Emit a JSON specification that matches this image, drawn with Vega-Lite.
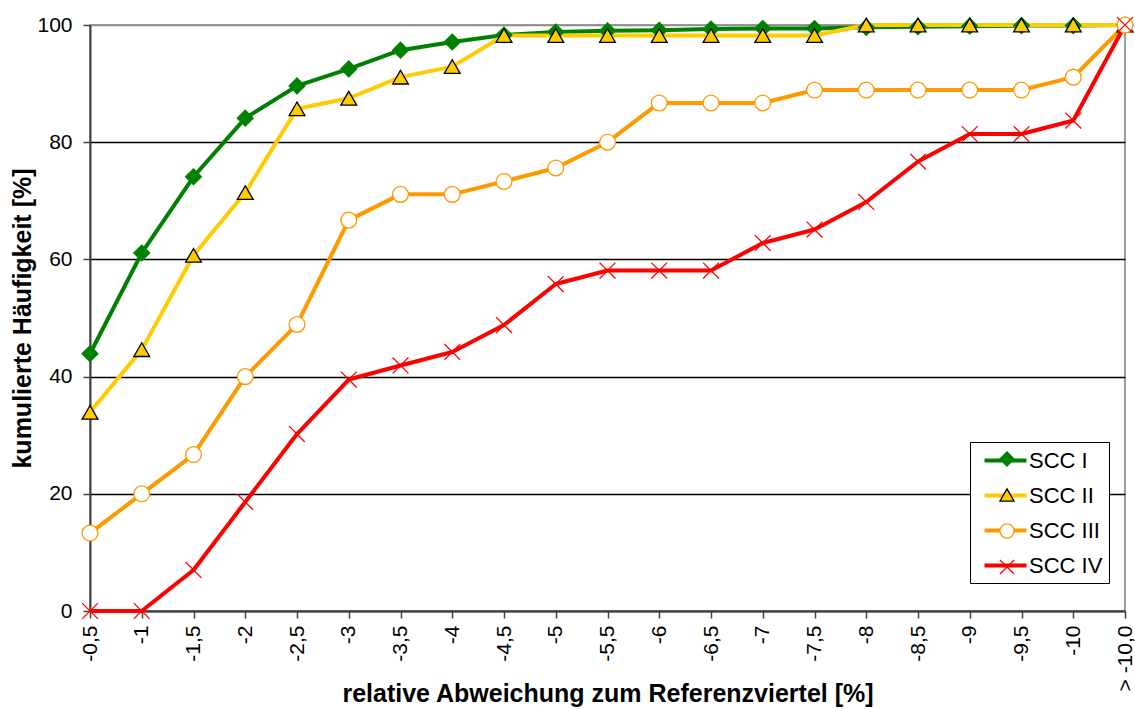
{
  "$schema": "https://vega.github.io/schema/vega-lite/v6.json",
  "autosize": "none",
  "width": 1035,
  "height": 586,
  "padding": {"left": 90, "top": 25, "right": 10, "bottom": 98},
  "background": "white",
  "config": {
    "font": "Liberation Sans",
    "view": {"stroke": "#808080", "strokeWidth": 1.5}
  },
  "data": {"values": [
    {"x": "-0,5", "series": "SCC I", "value": 43.9},
    {"x": "-1", "series": "SCC I", "value": 61.1},
    {"x": "-1,5", "series": "SCC I", "value": 74.1},
    {"x": "-2", "series": "SCC I", "value": 84.1},
    {"x": "-2,5", "series": "SCC I", "value": 89.6},
    {"x": "-3", "series": "SCC I", "value": 92.5},
    {"x": "-3,5", "series": "SCC I", "value": 95.7},
    {"x": "-4", "series": "SCC I", "value": 97.1},
    {"x": "-4,5", "series": "SCC I", "value": 98.3},
    {"x": "-5", "series": "SCC I", "value": 98.8},
    {"x": "-5,5", "series": "SCC I", "value": 99.0},
    {"x": "-6", "series": "SCC I", "value": 99.1},
    {"x": "-6,5", "series": "SCC I", "value": 99.3},
    {"x": "-7", "series": "SCC I", "value": 99.4},
    {"x": "-7,5", "series": "SCC I", "value": 99.4},
    {"x": "-8", "series": "SCC I", "value": 99.6},
    {"x": "-8,5", "series": "SCC I", "value": 99.7},
    {"x": "-9", "series": "SCC I", "value": 99.8},
    {"x": "-9,5", "series": "SCC I", "value": 99.9},
    {"x": "-10", "series": "SCC I", "value": 99.9},
    {"x": "> -10,0", "series": "SCC I", "value": 100},
    {"x": "-0,5", "series": "SCC II", "value": 33.9},
    {"x": "-1", "series": "SCC II", "value": 44.6},
    {"x": "-1,5", "series": "SCC II", "value": 60.7},
    {"x": "-2", "series": "SCC II", "value": 71.4},
    {"x": "-2,5", "series": "SCC II", "value": 85.7},
    {"x": "-3", "series": "SCC II", "value": 87.5},
    {"x": "-3,5", "series": "SCC II", "value": 91.1},
    {"x": "-4", "series": "SCC II", "value": 92.9},
    {"x": "-4,5", "series": "SCC II", "value": 98.2},
    {"x": "-5", "series": "SCC II", "value": 98.2},
    {"x": "-5,5", "series": "SCC II", "value": 98.2},
    {"x": "-6", "series": "SCC II", "value": 98.2},
    {"x": "-6,5", "series": "SCC II", "value": 98.2},
    {"x": "-7", "series": "SCC II", "value": 98.2},
    {"x": "-7,5", "series": "SCC II", "value": 98.2},
    {"x": "-8", "series": "SCC II", "value": 100},
    {"x": "-8,5", "series": "SCC II", "value": 100},
    {"x": "-9", "series": "SCC II", "value": 100},
    {"x": "-9,5", "series": "SCC II", "value": 100},
    {"x": "-10", "series": "SCC II", "value": 100},
    {"x": "> -10,0", "series": "SCC II", "value": 100},
    {"x": "-0,5", "series": "SCC III", "value": 13.3},
    {"x": "-1", "series": "SCC III", "value": 20.0},
    {"x": "-1,5", "series": "SCC III", "value": 26.7},
    {"x": "-2", "series": "SCC III", "value": 40.0},
    {"x": "-2,5", "series": "SCC III", "value": 48.9},
    {"x": "-3", "series": "SCC III", "value": 66.7},
    {"x": "-3,5", "series": "SCC III", "value": 71.1},
    {"x": "-4", "series": "SCC III", "value": 71.1},
    {"x": "-4,5", "series": "SCC III", "value": 73.3},
    {"x": "-5", "series": "SCC III", "value": 75.6},
    {"x": "-5,5", "series": "SCC III", "value": 80.0},
    {"x": "-6", "series": "SCC III", "value": 86.7},
    {"x": "-6,5", "series": "SCC III", "value": 86.7},
    {"x": "-7", "series": "SCC III", "value": 86.7},
    {"x": "-7,5", "series": "SCC III", "value": 88.9},
    {"x": "-8", "series": "SCC III", "value": 88.9},
    {"x": "-8,5", "series": "SCC III", "value": 88.9},
    {"x": "-9", "series": "SCC III", "value": 88.9},
    {"x": "-9,5", "series": "SCC III", "value": 88.9},
    {"x": "-10", "series": "SCC III", "value": 91.1},
    {"x": "> -10,0", "series": "SCC III", "value": 100},
    {"x": "-0,5", "series": "SCC IV", "value": 0},
    {"x": "-1", "series": "SCC IV", "value": 0},
    {"x": "-1,5", "series": "SCC IV", "value": 7.0},
    {"x": "-2", "series": "SCC IV", "value": 18.6},
    {"x": "-2,5", "series": "SCC IV", "value": 30.2},
    {"x": "-3", "series": "SCC IV", "value": 39.5},
    {"x": "-3,5", "series": "SCC IV", "value": 41.9},
    {"x": "-4", "series": "SCC IV", "value": 44.2},
    {"x": "-4,5", "series": "SCC IV", "value": 48.8},
    {"x": "-5", "series": "SCC IV", "value": 55.8},
    {"x": "-5,5", "series": "SCC IV", "value": 58.1},
    {"x": "-6", "series": "SCC IV", "value": 58.1},
    {"x": "-6,5", "series": "SCC IV", "value": 58.1},
    {"x": "-7", "series": "SCC IV", "value": 62.8},
    {"x": "-7,5", "series": "SCC IV", "value": 65.1},
    {"x": "-8", "series": "SCC IV", "value": 69.8},
    {"x": "-8,5", "series": "SCC IV", "value": 76.7},
    {"x": "-9", "series": "SCC IV", "value": 81.4},
    {"x": "-9,5", "series": "SCC IV", "value": 81.4},
    {"x": "-10", "series": "SCC IV", "value": 83.7},
    {"x": "> -10,0", "series": "SCC IV", "value": 100}
  ]},
  "encoding": {
    "x": {
      "field": "x", "type": "ordinal", "sort": null,
      "scale": {"type": "point", "padding": 0},
      "axis": {
        "title": "relative Abweichung zum Referenzviertel [%]",
        "titleFontSize": 25, "titleFontWeight": "bold", "titleColor": "black",
        "titleX": 517.5, "titleY": 82, "titleBaseline": "middle", "titleAlign": "center",
        "labelAngle": -90, "labelAlign": "right", "labelBaseline": "middle",
        "labelFontSize": 21, "labelColor": "black", "labelPadding": 7,
        "tickSize": 7, "tickColor": "#404040", "tickWidth": 1.5,
        "domainColor": "#404040", "domainWidth": 2,
        "grid": false, "labelOverlap": false
      }
    },
    "y": {
      "field": "value", "type": "quantitative",
      "scale": {"domain": [0, 100], "nice": false},
      "axis": {
        "title": "kumulierte Häufigkeit [%]",
        "titleFontSize": 25, "titleFontWeight": "bold", "titleColor": "black",
        "titleX": -68, "titleY": 293, "titleAngle": -90, "titleBaseline": "middle", "titleAlign": "center",
        "values": [0, 20, 40, 60, 80, 100],
        "labelFontSize": 21, "labelColor": "black", "labelPadding": 11,
        "tickSize": 7, "tickColor": "#404040", "tickWidth": 1.5,
        "domainColor": "#404040", "domainWidth": 2,
        "grid": true,
        "gridColor": {"condition": {"test": "datum.value === 100", "value": "#8c8c8c"}, "value": "black"},
        "gridWidth": 1.3, "gridOpacity": 1
      }
    }
  },
  "layer": [
    {
      "mark": {"type": "line", "strokeWidth": 4, "strokeJoin": "round"},
      "encoding": {
        "color": {
          "field": "series", "type": "nominal",
          "scale": {"domain": ["SCC I", "SCC II", "SCC III", "SCC IV"], "range": ["#008000", "#FFCC00", "#FF9900", "#FF0000"]},
          "legend": {
            "orient": "none", "legendX": 880, "legendY": 417, "title": null,
            "symbolType": "M-2,0H2", "symbolSize": 441, "symbolStrokeWidth": 4,
            "symbolOffset": 17, "labelOffset": 11,
            "labelFontSize": 22, "labelColor": "black", "labelFont": "Liberation Sans",
            "rowPadding": 11, "padding": 6,
            "fillColor": "white", "strokeColor": "black", "cornerRadius": 0
          }
        }
      }
    },
    {
      "mark": {"type": "point", "filled": true, "size": 250, "strokeWidth": 1.3, "opacity": 1},
      "encoding": {
        "shape": {
          "field": "series", "type": "nominal",
          "scale": {"range": ["diamond", "triangle-up", "circle", "M-1,-1L1,1M-1,1L1,-1"]},
          "legend": {
            "orient": "none", "legendX": 880, "legendY": 417, "title": null,
            "symbolSize": 200, "symbolStrokeWidth": 1.3, "symbolOffset": 20,
            "labelExpr": "' '", "labelOffset": 0, "labelFontSize": 22, "labelColor": "transparent",
            "rowPadding": 14, "padding": 6
          }
        },
        "fill": {
          "field": "series", "type": "nominal",
          "scale": {"range": ["#008000", "#FFCC00", "#FFFFFF", "transparent"]},
          "legend": {
            "orient": "none", "legendX": 880, "legendY": 417, "title": null,
            "symbolSize": 200, "symbolStrokeWidth": 1.3, "symbolOffset": 20,
            "labelExpr": "' '", "labelOffset": 0, "labelFontSize": 22, "labelColor": "transparent",
            "rowPadding": 14, "padding": 6
          }
        },
        "stroke": {
          "field": "series", "type": "nominal",
          "scale": {"range": ["#008000", "#000000", "#FF9900", "#FF0000"]},
          "legend": {
            "orient": "none", "legendX": 880, "legendY": 417, "title": null,
            "symbolSize": 200, "symbolStrokeWidth": 1.3, "symbolOffset": 20,
            "labelExpr": "' '", "labelOffset": 0, "labelFontSize": 22, "labelColor": "transparent",
            "rowPadding": 14, "padding": 6
          }
        }
      }
    }
  ]
}
